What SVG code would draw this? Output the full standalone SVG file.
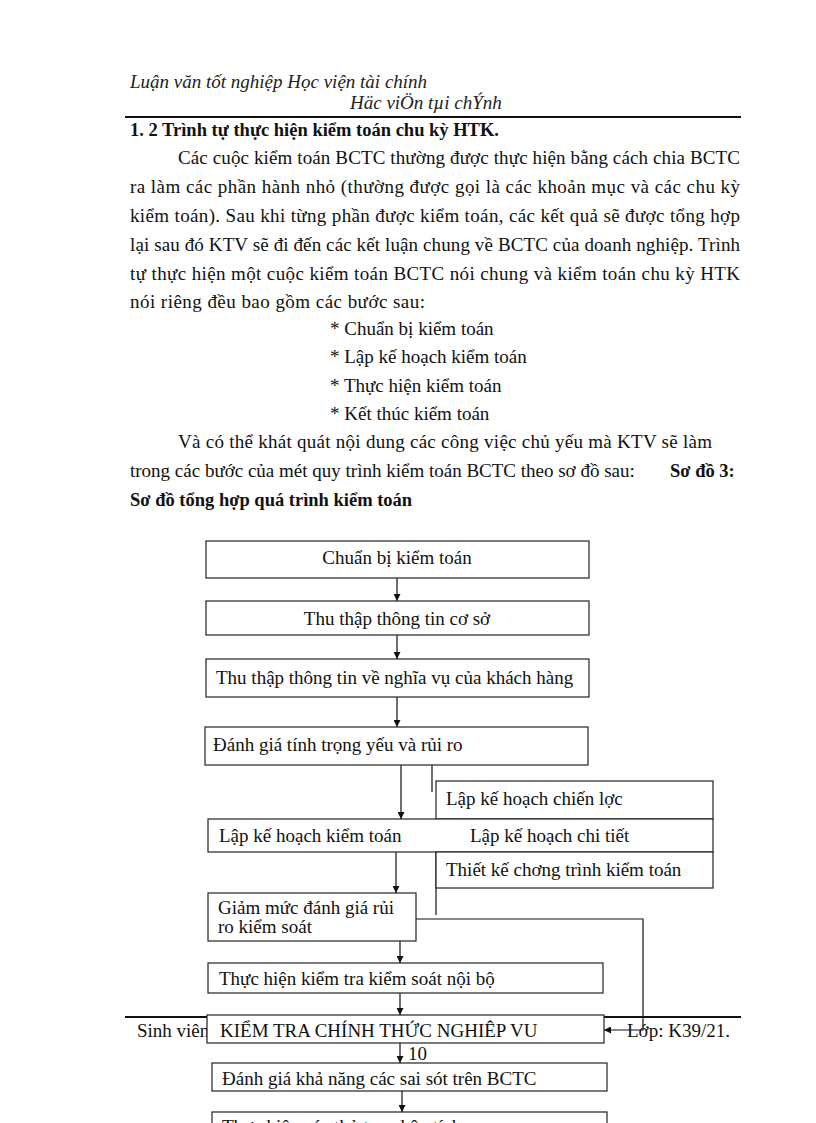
<svg xmlns="http://www.w3.org/2000/svg" width="816" height="1123" viewBox="0 0 816 1123">
<defs>
<style>
.t{font-family:"Liberation Serif","Times New Roman",serif;font-size:19px;fill:#111}
.h{font-family:"Liberation Serif","Times New Roman",serif;font-size:19px;font-style:italic;fill:#222}
.b{font-family:"Liberation Serif","Times New Roman",serif;font-size:18.5px;font-weight:bold;fill:#111}
.n{font-family:"Liberation Serif","Times New Roman",serif;font-size:19px;fill:#111}
.box{fill:#fff;stroke:#222;stroke-width:1.2}
.ln{fill:none;stroke:#111;stroke-width:1.2}
.rule{stroke:#111;stroke-width:2}
</style>
<marker id="ah" viewBox="0 0 10 10" refX="10" refY="5" markerWidth="7" markerHeight="7" orient="auto" markerUnits="userSpaceOnUse">
<path d="M0,0 L10,5 L0,10 z" fill="#111"/>
</marker>
</defs>
<rect width="816" height="1123" fill="#fff"/>

<g id="header">
<text class="h" x="130" y="88">Luận văn tốt nghiệp Học viện tài chính</text>
<text class="h" x="350" y="109">Häc viÖn tµi chÝnh</text>
<line class="rule" x1="125" y1="117" x2="741" y2="117"/>
</g>

<g id="body">
<text class="b" x="130" y="136">1. 2 Trình tự thực hiện kiểm toán chu kỳ HTK.</text>
<text class="t" x="178" y="164" textLength="562" lengthAdjust="spacing">Các cuộc kiểm  toán BCTC thường được thực hiện  bằng cách chia BCTC</text>
<text class="t" x="130" y="193" textLength="610" lengthAdjust="spacing">ra làm  các phần hành nhỏ (thường  được gọi là  các khoản mục và các chu kỳ</text>
<text class="t" x="130" y="222" textLength="610" lengthAdjust="spacing">kiểm  toán). Sau khi từng phần được kiểm  toán, các kết quả sẽ được tổng hợp</text>
<text class="t" x="130" y="251" textLength="610" lengthAdjust="spacing">lại  sau đó KTV sẽ đi đến các kết luận chung về BCTC của doanh nghiệp. Trình</text>
<text class="t" x="130" y="280" textLength="610" lengthAdjust="spacing">tự thực hiện  một cuộc kiểm  toán BCTC nói chung và kiểm  toán chu kỳ HTK</text>
<text class="t" x="130" y="308" textLength="295" lengthAdjust="spacing">nói riêng  đều bao gồm các bước sau:</text>
<text class="t" x="330" y="335">* Chuẩn bị kiểm  toán</text>
<text class="t" x="330" y="363">* Lập kế hoạch kiểm  toán</text>
<text class="t" x="330" y="392">* Thực hiện  kiểm  toán</text>
<text class="t" x="330" y="420">* Kết thúc kiểm  toán</text>
<text class="t" x="178" y="448" textLength="534" lengthAdjust="spacing">Và có thể khát quát nội dung các công việc chủ yếu mà KTV sẽ làm</text>
<text class="t" x="130" y="477">trong các bước của mét  quy trình kiểm  toán BCTC theo sơ đồ sau:</text>
<text class="b" x="670" y="477" font-size="20">Sơ đồ 3:</text>
<text class="b" x="130" y="506" font-size="20">Sơ đồ tổng hợp quá trình kiểm toán</text>
</g>

<g id="footer">
<line class="rule" x1="125" y1="1017" x2="741" y2="1017"/>
<text class="n" x="137" y="1037" font-size="17.5">Sinh viên</text>
<text class="n" x="627" y="1037" font-size="18.5">Lớp: K39/21.</text>
<text class="n" x="408" y="1060" font-size="18">10</text>
</g>

<g id="connectors">
<line class="ln" x1="397" y1="578" x2="397" y2="601" marker-end="url(#ah)"/>
<line class="ln" x1="397" y1="635" x2="397" y2="659" marker-end="url(#ah)"/>
<line class="ln" x1="397" y1="697" x2="397" y2="727" marker-end="url(#ah)"/>
<line class="ln" x1="401" y1="765" x2="401" y2="819" marker-end="url(#ah)"/>
<line class="ln" x1="432" y1="765" x2="432" y2="792"/>
<line class="ln" x1="396" y1="852" x2="396" y2="893" marker-end="url(#ah)"/>
<line class="ln" x1="436" y1="852" x2="436" y2="915"/>
<line class="ln" x1="400" y1="941" x2="400" y2="963" marker-end="url(#ah)"/>
<line class="ln" x1="400" y1="993" x2="400" y2="1015" marker-end="url(#ah)"/>
<polyline class="ln" points="416,919 643,919 643,1030 604,1030" marker-end="url(#ah)"/>
<line class="ln" x1="400" y1="1043" x2="400" y2="1063" marker-end="url(#ah)"/>
<line class="ln" x1="402" y1="1091" x2="402" y2="1112" marker-end="url(#ah)"/>
</g>

<g id="n1"><rect class="box" x="206" y="541" width="383" height="37"/><text class="n" x="397" y="564" text-anchor="middle">Chuẩn bị kiểm toán</text></g>
<g id="n2"><rect class="box" x="206" y="601" width="383" height="34"/><text class="n" x="397" y="625" text-anchor="middle">Thu thập thông tin cơ sở</text></g>
<g id="n3"><rect class="box" x="206" y="659" width="383" height="38"/><text class="n" x="216" y="684">Thu thập thông tin về nghĩa vụ của khách hàng</text></g>
<g id="n4"><rect class="box" x="205" y="727" width="383" height="38"/><text class="n" x="213" y="751">Đánh giá tính trọng yếu và rủi ro</text></g>
<g id="n5"><rect class="box" x="436" y="781" width="277" height="38"/><text class="n" x="446" y="805">Lập kế hoạch chiến lợc</text></g>
<g id="n6"><rect class="box" x="208" y="819" width="505" height="33"/><text class="n" x="219" y="842">Lập kế hoạch kiểm toán</text><text class="n" x="470" y="842">Lập kế hoạch chi tiết</text></g>
<g id="n7"><rect class="box" x="436" y="852" width="277" height="36"/><text class="n" x="446" y="876">Thiết kế chơng   trình kiểm toán</text></g>
<g id="n8"><rect class="box" x="208" y="893" width="208" height="48"/><text class="n" x="218" y="914">Giảm mức đánh giá rủi</text><text class="n" x="218" y="933">ro kiểm soát</text></g>
<g id="n9"><rect class="box" x="208" y="963" width="395" height="30"/><text class="n" x="219" y="985">Thực hiện kiểm tra kiểm soát nội bộ</text></g>
<g id="n10"><rect class="box" x="207" y="1015" width="397" height="28"/><text class="n" x="220" y="1037" font-size="20">KIỂM TRA CHÍNH THỨC NGHIÊP VU</text></g>
<g id="n11"><rect class="box" x="212" y="1063" width="395" height="28"/><text class="n" x="222" y="1085">Đánh giá khả năng các sai sót trên BCTC</text></g>
<g id="n12"><rect class="box" x="212" y="1112" width="395" height="30"/><text class="n" x="222" y="1133">Thực hiện các thủ tục phân tích</text></g>
</svg>
